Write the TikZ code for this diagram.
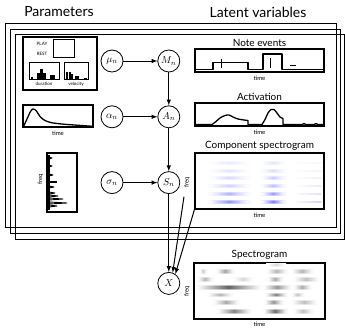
\documentclass[tikz,border=0pt]{standalone}
\usepackage{fontspec}
\setmainfont{Lato}
\usetikzlibrary{positioning}

\begin{document}
\begin{tikzpicture}[
    x=1pt, y=-1pt,
    var/.style={draw, circle, line width=0.8pt, minimum size=22pt, inner sep=0pt,
        font=\fontsize{10}{11}\selectfont},
    panel/.style={draw, line width=1.2pt, inner sep=0pt},
    thinbox/.style={draw, line width=0.7pt},
    heading/.style={font=\fontsize{14}{16}\selectfont},
    caption/.style={font=\fontsize{10}{12}\selectfont, inner sep=1pt},
    axislabel/.style={font=\fontsize{6}{7}\selectfont, inner sep=1pt},
    tiny/.style={font=\fontsize{4.5}{5}\selectfont, inner sep=0.5pt},
    plate/.style={draw, line width=0.8pt},
    signal/.style={line width=1.3pt, line join=round},
    arrow/.style={-latex, line width=1pt}
]
\useasboundingbox[fill=white] (0,0) rectangle (345,327);

% --- Plates ---
\draw[plate] (5,23) rectangle (336,227);
\draw[plate] (10,29) rectangle (340,233);
\draw[plate] (15,34) rectangle (344,239);

% --- Headings ---
\node[heading] (partitle) at (59,12) {Parameters};
\node[heading] (lattitle) at (258,12) {Latent variables};

% --- Random variables ---
\node[var] (mu) at (112,61) {$\mu_n$};
\node[var, right=34pt of mu] (M) {$M_n$};
\node[var, below=33pt of M] (A) {$A_n$};
\node[var, left=34pt of A] (alpha) {$\alpha_n$};
\node[var, below=43pt of A] (S) {$S_n$};
\node[var, left=34pt of S] (sigma) {$\sigma_n$};
\node[var, below=78pt of S] (X) {$X$};

% --- Parameter panels ---
\node[panel, minimum width=74pt, minimum height=53pt] (prior) at (60,63.5) {};
\node[tiny, anchor=east] (play) at (48,44) {PLAY};
\node[tiny, anchor=east] (rest) at (48,54) {REST};
\draw[thinbox] (53,39) rectangle (74,57);
\draw[thinbox] (29,62) rectangle (59,79);
\draw[thinbox] (64,62) rectangle (88,79);
\foreach \xa/\xb/\t in {30.5/32.5/76.5, 36.5/39.5/72.5, 40/43.3/69, 43.3/46/72.5, 49.5/55/75}
    \fill (\xa,79) rectangle (\xb,\t);
\foreach \xa/\xb/\t in {66/68.3/71.5, 68.7/70.8/71.5, 71/73.3/74, 75/78.5/76, 83.5/86.5/77.5}
    \fill (\xa,79) rectangle (\xb,\t);
\node[tiny] (dur) at (44,84) {duration};
\node[tiny] (vel) at (76,84) {velocity};

\node[panel, minimum width=70pt, minimum height=22pt] (kernel) at (58,116) {};
\draw[signal] plot[smooth] coordinates {(23.5,126.5) (27,119) (30.5,111.5) (33,109) (36,110.5)
    (40,116.5) (45,120.5) (52,122.8) (65,124.3) (80,125.4) (92.5,126.3)};
\node[axislabel, below=2pt of kernel] (ktime) {time};

\node[panel, minimum width=30pt, minimum height=59pt] (spectrum) at (62,182.5) {};
\draw[line width=1.3pt] (49,155) -- (49,210);
\foreach \h/\a in {158/3, 166/3, 175/4, 187/5, 193/6, 196/9, 199/14, 203/18, 206/8}
    \draw[line width=0.9pt, line join=round] (49,\h-1) -- (49+\a,\h) -- (49,\h+1);
\draw[line width=1.6pt] (49,182) -- (57,182);
\node[axislabel, rotate=90] (sfreq) at (40.5,179) {freq};

% --- Latent variable panels ---
\node[panel, minimum width=129pt, minimum height=23pt] (notes) at (259.5,60.5) {};
\node[caption, above=1pt of notes] (notetitle) {Note events};
\draw[signal] (196,69.5) -- (213,69.5) -- (213,62.5) -- (248,62.5) -- (248,69.5) -- (263,69.5)
    -- (263,54) -- (282,54) -- (282,69.5) -- (323,69.5);
\draw[line width=0.8pt] (221,59) -- (221,68) (270,58) -- (270,68) (290,65) -- (296,65);
\node[axislabel, below=2pt of notes] (ntime) {time};

\node[panel, minimum width=129pt, minimum height=23pt] (act) at (259.5,114.5) {};
\node[caption, above=1pt of act] (acttitle) {Activation};
\draw[signal] (196,124.5) -- (212,124.5)
    plot[smooth] coordinates {(212,124.5) (216,121.5) (220,118) (225,115.5) (229,115) (233,117)
    (238,119) (244,120) (248,120.5)} -- (248,124.5) -- (262,124.5)
    plot[smooth] coordinates {(262,124.5) (265,119.5) (268,113) (271,109.5) (274,109.5) (277,113)
    (280,117) (283,118.5)} -- (283,124.5) -- (302,124.5) -- (304,123.6) -- (306,124.5)
    -- (314,124.5) -- (316,123.6) -- (318,124.5) -- (323,124.5);
\node[axislabel, below=2pt of act] (atime) {time};

\node[panel, minimum width=129pt, minimum height=56pt] (compspec) at (259.5,181) {};
\node[caption, above=1pt of compspec] (cstitle) {Component spectrogram};
\foreach \y/\ca/\cb/\cc in {163/8/10/4, 171/10/14/5, 178/14/20/6, 186/18/25/8, 194/30/38/12, 202/42/50/18} {
    \shade[left color=white, right color=white, middle color=blue!\ca!white!60] (206,\y-1.8) rectangle (252,\y+1.8);
    \shade[left color=white, right color=white, middle color=blue!\ca] (210,\y-0.8) rectangle (248,\y+0.8);
    \shade[left color=white, right color=white, middle color=blue!\cb!white!60] (259,\y-1.8) rectangle (287,\y+1.8);
    \shade[left color=white, right color=white, middle color=blue!\cb] (262,\y-0.8) rectangle (284,\y+0.8);
    \shade[left color=white, right color=blue!\cc] (293,\y-0.9) rectangle (321,\y+0.9);
}
\node[axislabel, rotate=90] (csfreq) at (187,182) {freq};
\node[axislabel, below=2pt of compspec] (cstime) {time};

\node[panel, minimum width=131pt, minimum height=56pt] (spec) at (259.5,291) {};
\node[caption, above=2pt of spec] (spectitle) {Spectrogram};
\foreach \y/\xa/\xb/\c in {265/266/286/15,
    271.7/198/208/20, 271.7/215/235/35, 271.7/265/288/28, 271.7/290/314/28,
    279.3/196/214/28, 279.3/232/254/15, 279.3/266/284/32, 279.3/292/320/24,
    287.7/195/262/60, 287.7/262/292/40, 287.7/292/312/32,
    295/206/234/28, 295/264/288/48, 295/290/305/24,
    302.7/212/240/32, 302.7/263/284/40, 302.7/290/318/24,
    311.7/216/252/48, 311.7/262/288/56, 311.7/292/314/24} {
    \shade[left color=white, right color=white, middle color=black!\c!white!50] (\xa,\y-1.8) rectangle (\xb,\y+1.8);
    \shade[left color=white, right color=white, middle color=black!\c] (\xa+2,\y-0.8) rectangle (\xb-2,\y+0.8);
}
\node[axislabel, rotate=90] (spfreq) at (187,291) {freq};
\node[axislabel, below=1pt of spec] (sptime) {time};

% --- Arrows ---
\draw[arrow] (mu) -- (M);
\draw[arrow] (M) -- (A);
\draw[arrow] (alpha) -- (A);
\draw[arrow] (A) -- (S);
\draw[arrow] (sigma) -- (S);
\draw[arrow] (S) -- (X);
\draw[arrow] ([xshift=-3pt, yshift=-8pt]csfreq.west) -- (X.70);
\draw[arrow] (compspec.south west) -- (X.55);

\end{tikzpicture}
\end{document}
